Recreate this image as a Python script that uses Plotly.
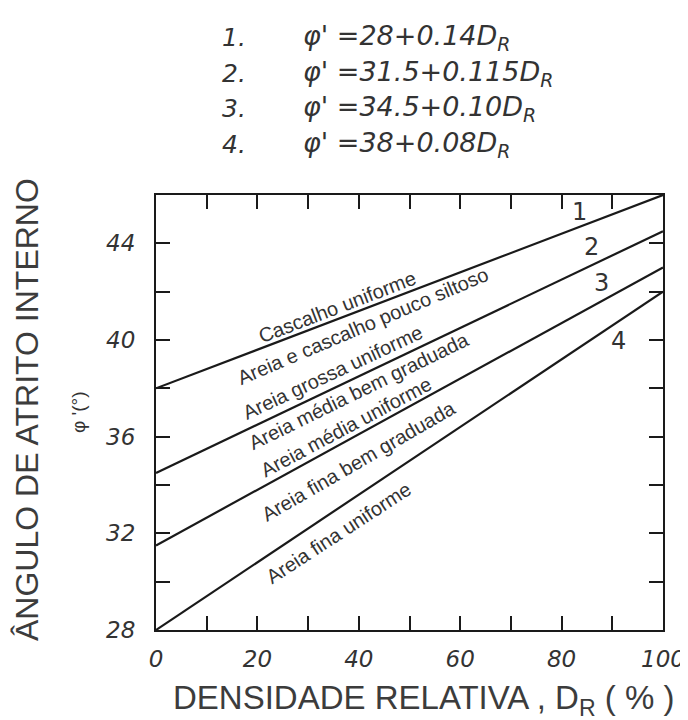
import plotly.graph_objects as go

# ---- data ----
dr = [0, 100]                       # DENSIDADE RELATIVA (%)
phi_line1 = [38.0, 46.0]            # curve labelled 1
phi_line2 = [34.5, 44.5]            # curve labelled 2
phi_line3 = [31.5, 43.0]            # curve labelled 3
phi_line4 = [28.0, 42.0]            # curve labelled 4
curve_series = [phi_line1, phi_line2, phi_line3, phi_line4]

curve_names = ["1", "2", "3", "4"]
curve_label_x = [83.6, 85.8, 87.8, 91.3]
curve_label_y = [45.3, 43.85, 42.35, 39.95]

soil_labels = ["Cascalho uniforme", "Areia e cascalho pouco siltoso", "Areia grossa uniforme",
               "Areia média bem graduada", "Areia média uniforme", "Areia fina bem graduada",
               "Areia fina uniforme"]
soil_x = [35.7, 40.8, 35.0, 40.0, 37.5, 40.0, 36.0]
soil_y = [41.35, 40.56, 38.66, 37.88, 36.4, 34.98, 32.0]
soil_angle = [21, 23, 25, 26, 28, 30, 33]

eq_numbers = ["1.", "2.", "3.", "4."]
eq_texts = ["φ' =28+0.14D<sub>R</sub>", "φ' =31.5+0.115D<sub>R</sub>",
            "φ' =34.5+0.10D<sub>R</sub>", "φ' =38+0.08D<sub>R</sub>"]
eq_rows_px = [29, 65, 101, 137]

x_tickvals = [0, 10, 20, 30, 40, 50, 60, 70, 80, 90, 100]
x_ticktext = ["0", "", "20", "", "40", "", "60", "", "80", "", "100"]
y_tickvals = [28, 30, 32, 34, 36, 38, 40, 42, 44, 46]
y_ticktext = ["28", "", "32", "", "36", "", "40", "", "44", ""]

# ---- layout geometry ----
W, H = 688, 720
ML, MR, MT, MB = 148, 33, 187, 98
PH = H - MT - MB
PW = W - ML - MR

def py(p):
    return (H - MB - p) / PH

def px(p):
    return (p - ML) / PW

TXT = "#333333"
LINE = "#1a1a1a"

fig = go.Figure()
for ys in curve_series:
    fig.add_trace(go.Scatter(x=dr, y=ys, mode="lines", line=dict(color=LINE, width=2.2),
                             showlegend=False, hoverinfo="skip"))

ann = []
for n, x, y in zip(curve_names, curve_label_x, curve_label_y):
    ann.append(dict(x=x, y=y, xref="x", yref="y", text=n, showarrow=False,
                    xanchor="center", yanchor="middle",
                    font=dict(family="DejaVu Sans", size=24, color=TXT)))
for t, x, y, a in zip(soil_labels, soil_x, soil_y, soil_angle):
    ann.append(dict(x=x, y=y, xref="x", yref="y", text=t, showarrow=False, textangle=-a,
                    xanchor="center", yanchor="middle",
                    font=dict(family="Liberation Sans", size=20, color=TXT)))
for n, t, r in zip(eq_numbers, eq_texts, eq_rows_px):
    ann.append(dict(x=px(212), y=py(r), xref="paper", yref="paper", text=n, showarrow=False,
                    xanchor="left", yanchor="middle",
                    font=dict(family="DejaVu Sans", size=25, color=TXT, style="italic")))
    ann.append(dict(x=px(293), y=py(r), xref="paper", yref="paper", text=t, showarrow=False,
                    xanchor="left", yanchor="middle",
                    font=dict(family="DejaVu Sans", size=27, color=TXT, style="italic")))

ann.append(dict(x=px(19), y=py(402), xref="paper", yref="paper", text="ÂNGULO DE ATRITO INTERNO",
                showarrow=False, textangle=-90, xanchor="center", yanchor="middle",
                font=dict(family="Liberation Sans", size=32, color="#3c3c3c")))
ann.append(dict(x=px(70), y=py(405), xref="paper", yref="paper", text="φ '(°)",
                showarrow=False, textangle=-90, xanchor="center", yanchor="middle",
                font=dict(family="Liberation Sans", size=19, color=TXT)))
ann.append(dict(x=px(415), y=py(692), xref="paper", yref="paper",
                text="DENSIDADE RELATIVA , D<sub>R</sub> ( % )",
                showarrow=False, xanchor="center", yanchor="middle",
                font=dict(family="Liberation Sans", size=33, color="#3c3c3c")))

axis_common = dict(showgrid=False, zeroline=False, showline=True, linecolor=LINE, linewidth=2,
                   mirror="allticks", ticks="inside", ticklen=14, tickwidth=2, tickcolor=LINE,
                   tickfont=dict(family="DejaVu Sans", size=23, color=TXT, style="italic"))

fig.update_layout(
    width=W, height=H, margin=dict(l=ML, r=MR, t=MT, b=MB),
    paper_bgcolor="white", plot_bgcolor="white",
    xaxis=dict(range=[0, 100], tickvals=x_tickvals, ticktext=x_ticktext,
               ticklabelstandoff=7, **axis_common),
    yaxis=dict(range=[28, 46], tickvals=y_tickvals, ticktext=y_ticktext,
               ticklabelstandoff=14, **axis_common),
    annotations=ann,
)

fig.write_html("out.html")
